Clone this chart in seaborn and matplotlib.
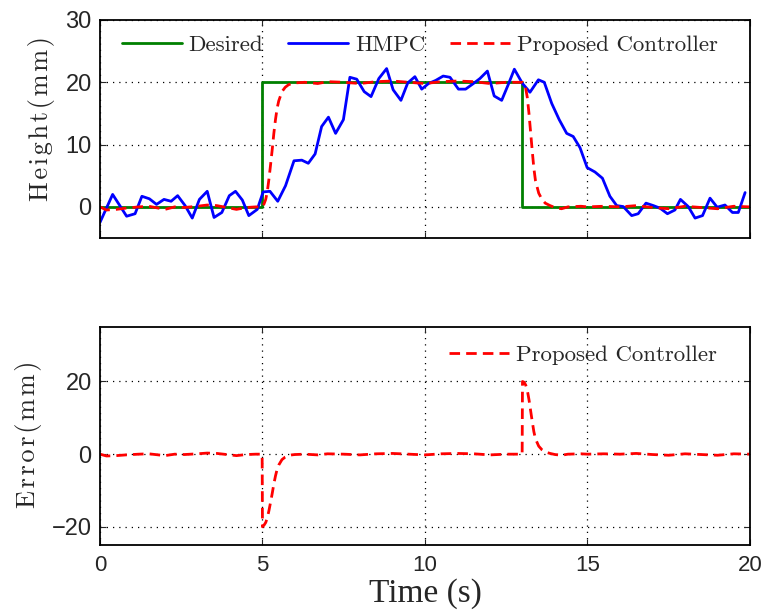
import numpy as np
import pandas as pd
import matplotlib
matplotlib.use("Agg")
import matplotlib.pyplot as plt
import seaborn as sns

# ---------------- data ----------------
desired_t = [0, 5, 5, 13, 13, 20]
desired_y = [0, 0, 20, 20, 0, 0]

hmpc_t = [0, 0.39, 0.82, 1.08, 1.29, 1.52, 1.74, 1.97, 2.19, 2.39,
          2.62, 2.84, 3.06, 3.30, 3.51, 3.75, 3.98, 4.17, 4.38, 4.58,
          4.84, 5.02, 5.23, 5.47, 5.71, 5.97, 6.21, 6.41, 6.62, 6.82,
          7.03, 7.25, 7.49, 7.69, 7.90, 8.13, 8.34, 8.58, 8.82, 9.02,
          9.26, 9.47, 9.69, 9.90, 10.11, 10.33, 10.56, 10.77, 11.03, 11.25,
          11.49, 11.69, 11.92, 12.13, 12.36, 12.56, 12.75, 13.00, 13.23, 13.49,
          13.67, 13.90, 14.13, 14.36, 14.56, 14.77, 14.99, 15.23, 15.46, 15.69,
          15.90, 16.10, 16.36, 16.56, 16.80, 17.03, 17.23, 17.46, 17.69, 17.86,
          18.10, 18.31, 18.54, 18.77, 18.99, 19.23, 19.46, 19.64, 19.85]
hmpc_y = [-2.5, 2.0, -1.5, -1.1, 1.7, 1.3, 0.4, 1.2, 0.9, 1.8,
          0.2, -1.8, 1.2, 2.5, -1.7, -0.9, 1.8, 2.5, 1.1, -1.4,
          -0.4, 2.4, 2.5, 0.9, 3.4, 7.4, 7.5, 7.0, 8.5, 12.9,
          14.4, 11.8, 14.0, 20.8, 20.5, 18.5, 17.7, 20.6, 22.2, 18.8,
          17.1, 19.9, 20.9, 18.9, 19.8, 20.3, 21.0, 20.8, 18.9, 18.9,
          19.8, 20.6, 21.8, 17.8, 17.1, 19.6, 22.1, 19.8, 18.4, 20.4,
          20.0, 16.6, 14.0, 11.8, 11.3, 9.5, 6.3, 5.6, 4.6, 1.7,
          0.2, 0.05, -1.4, -1.1, 0.6, 0.2, -0.2, -1.1, -0.5, 1.2,
          0.05, -1.8, -1.4, 1.4, -0.05, 0.3, -0.9, -0.9, 2.3]

prop_t = [0, 0.2, 0.5, 0.8, 1.2, 1.5, 1.8, 2.0, 2.3, 2.6,
          3.0, 3.3, 3.6, 3.9, 4.2, 4.5, 4.8, 4.99, 5.0, 5.05,
          5.1, 5.15, 5.2, 5.25, 5.3, 5.35, 5.4, 5.45, 5.5, 5.6,
          5.7, 5.8, 5.9, 6.0, 6.3, 6.7, 7.0, 7.5, 8.0, 8.5,
          9.0, 9.5, 10.0, 10.5, 11.0, 11.5, 12.0, 12.5, 12.99, 13.0,
          13.05, 13.1, 13.15, 13.2, 13.25, 13.3, 13.35, 13.4, 13.5, 13.6,
          13.7, 13.85, 14.0, 14.2, 14.4, 14.8, 15.0, 15.5, 16.0, 16.5,
          17.0, 17.5, 18.0, 18.5, 19.0, 19.5, 20.0]
prop_y = [0, -0.5, -0.4, -0.2, 0.0, 0.1, -0.2, -0.4, 0.0, -0.1,
          0.1, 0.3, 0.2, -0.1, -0.4, -0.1, 0.0, 0.0, 0.0, 0.5,
          1.2, 2.5, 4.5, 6.8, 9.2, 11.8, 14.0, 15.8, 17.0, 18.5,
          19.2, 19.6, 19.8, 19.9, 20.0, 19.8, 20.1, 20.0, 19.8, 20.1,
          20.2, 20.0, 19.8, 20.1, 20.2, 20.1, 19.8, 20.0, 20.0, 20.0,
          19.8, 19.0, 17.5, 15.0, 12.0, 9.0, 6.2, 4.2, 2.2, 1.2,
          0.6, 0.2, -0.1, -0.3, 0.0, 0.1, 0.0, 0.1, 0.0, 0.2,
          -0.1, -0.3, 0.1, -0.1, -0.3, 0.1, 0.0]

x_ticks = [0, 5, 10, 15, 20]
top_yticks = [0, 10, 20, 30]
bot_yticks = [-20, 0, 20]

# error = proposed - desired (desired step evaluated at the proposed times)
pt = np.array(prop_t)
desired_at_prop = np.where((pt >= 5) & (pt < 13), 20.0, 0.0)
error_y = np.array(prop_y) - desired_at_prop

# ---------------- style ----------------
sns.set_theme(style="ticks")
plt.rcParams["font.family"] = ["Liberation Sans", "DejaVu Sans"]
plt.rcParams["axes.unicode_minus"] = True
plt.rcParams["xtick.direction"] = "in"
plt.rcParams["ytick.direction"] = "in"

GREEN = "#008000"
BLUE = "#0000ff"
RED = "#ff0000"
LW = 2.0
DASH = (0, (3.8, 2.2))
SERIF_CM = ["cmr10", "DejaVu Serif"]
HS = "\u200a"

fig = plt.figure(figsize=(7.66, 6.13), dpi=100)
ax1 = fig.add_axes([0.1305, 0.6117, 0.8486, 0.3557])
ax2 = fig.add_axes([0.1305, 0.1109, 0.8486, 0.3557])

df_des = pd.DataFrame({"t": desired_t, "y": desired_y})
df_hmpc = pd.DataFrame({"t": hmpc_t, "y": hmpc_y})
df_prop = pd.DataFrame({"t": prop_t, "y": prop_y})
df_err = pd.DataFrame({"t": prop_t, "y": error_y})

sns.lineplot(data=df_des, x="t", y="y", ax=ax1, color=GREEN, lw=LW,
             estimator=None, sort=False, label="Desired")
sns.lineplot(data=df_hmpc, x="t", y="y", ax=ax1, color=BLUE, lw=LW,
             estimator=None, sort=False, label="HMPC")
sns.lineplot(data=df_prop, x="t", y="y", ax=ax1, color=RED, lw=LW,
             linestyle=DASH, estimator=None, sort=False,
             label="Proposed Controller")

sns.lineplot(data=df_err, x="t", y="y", ax=ax2, color=RED, lw=LW,
             linestyle=DASH, estimator=None, sort=False,
             label="Proposed Controller")

for ax in (ax1, ax2):
    ax.set_xlim(0, 20)
    ax.set_xticks(x_ticks)
    ax.grid(True, linestyle=(0, (1, 4)), color="black", linewidth=0.9)
    ax.tick_params(axis="both", which="both", top=True, right=True,
                   direction="in", length=4, width=0.8, labelsize=17,
                   pad=6)
    for s in ax.spines.values():
        s.set_visible(True)
        s.set_linewidth(1.3)
        s.set_color("black")
    ax.set_facecolor("white")
    ax.set_xlabel("")

ax1.set_ylim(-5, 30)
ax1.set_yticks(top_yticks)
ax1.tick_params(axis="x", labelbottom=False)

ax2.set_ylim(-25, 35)
ax2.set_yticks(bot_yticks)
ax2.tick_params(axis="x", labelsize=16, pad=7)

ax1.set_ylabel(HS.join("Height(mm)"), family=SERIF_CM, fontsize=19)
ax1.yaxis.set_label_coords(-0.069, 0.55)
ax2.set_ylabel(HS.join("Error(mm)"), family=SERIF_CM, fontsize=19)
ax2.yaxis.set_label_coords(-0.089, 0.51)
ax2.set_xlabel("Time (s)", family=["Liberation Serif", "DejaVu Serif"],
               fontsize=24, labelpad=2)

leg1 = ax1.legend(loc="center", bbox_to_anchor=(0.492, 0.885), ncol=3,
                  frameon=False, handlelength=2.6, handletextpad=0.3,
                  columnspacing=1.1, borderaxespad=0,
                  prop={"family": SERIF_CM, "size": 16.5})
leg2 = ax2.legend(loc="center", bbox_to_anchor=(0.743, 0.872), ncol=1,
                  frameon=False, handlelength=2.6, handletextpad=0.3,
                  borderaxespad=0,
                  prop={"family": SERIF_CM, "size": 16.5})

fig.savefig("out.png", dpi=100, facecolor="white")
